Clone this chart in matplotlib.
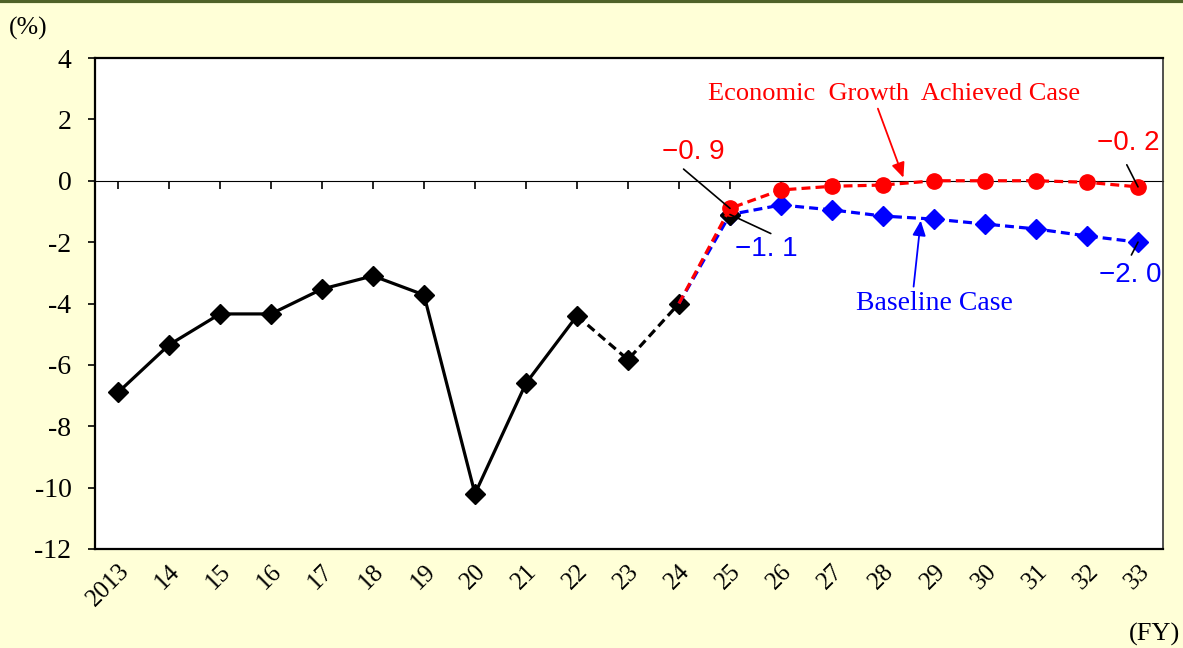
import matplotlib
matplotlib.use("Agg")
import matplotlib.pyplot as plt
from matplotlib.lines import Line2D

# Fiscal years and tick labels
years = ["2013", "14", "15", "16", "17", "18", "19", "20", "21", "22", "23",
         "24", "25", "26", "27", "28", "29", "30", "31", "32", "33"]

# Actual values FY2013-FY2024 (%)
actual = [-6.9, -5.35, -4.34, -4.34, -3.53, -3.1, -3.72, -10.2, -6.6, -4.4, -5.83, -4.0]

# Projections FY2024-FY2033 (%)
growth_case = [-4.0, -0.9, -0.3, -0.18, -0.14, 0.0, 0.0, 0.0, -0.05, -0.2]
baseline_case = [-4.0, -1.1, -0.79, -0.95, -1.15, -1.25, -1.41, -1.57, -1.8, -2.0]

BG = "#FFFFD7"
RED = "#FF0000"
BLUE = "#0000FF"
serif = ["Liberation Serif", "DejaVu Serif"]
numfont = ["Liberation Sans Narrow", "Liberation Sans", "DejaVu Sans"]

fig = plt.figure(figsize=(11.83, 6.48), dpi=100, facecolor=BG)
ax = fig.add_axes([95 / 1183, 1 - 549 / 648, (1163 - 95) / 1183, (549 - 58) / 648])
ax.set_facecolor("white")

x_all = list(range(len(years)))
x_solid = x_all[:10]
x_dash = x_all[9:12]
x_proj = x_all[11:]

lw = 2.3
dash = (0, (2.8, 1.6))
# historical series
ax.plot(x_solid, actual[:10], color="black", lw=lw, zorder=3)
ax.plot(x_dash, actual[9:12], color="black", lw=lw, ls=dash, zorder=3)
ax.plot(x_all[:12], actual, ls="none", marker="D", ms=10, color="black", zorder=4)

# projections
ax.plot(x_proj, baseline_case, color=BLUE, lw=lw, ls=dash,
        marker="D", ms=10, markevery=list(range(1, len(x_proj))), zorder=5)
ax.plot([x_proj[1]], [baseline_case[1]], ls="none", marker="D", ms=10,
        color="black", zorder=6)
ax.plot(x_proj, growth_case, color=RED, lw=lw, ls=dash,
        marker="o", ms=11, markevery=list(range(1, len(x_proj))), zorder=7)

ax.set_xlim(-0.45, len(years) - 1 + 0.49)
ax.set_ylim(-12, 4)
ax.set_yticks(range(-12, 5, 2))
ax.set_yticklabels([str(v) for v in range(-12, 5, 2)], fontfamily=serif, fontsize=20)
ax.tick_params(axis="y", direction="out", length=5, width=1.2, pad=12)

ax.set_xticks(x_all)
ax.set_xticklabels(years, rotation=45, ha="right", va="top",
                   rotation_mode="anchor", fontfamily=serif, fontsize=18)
ax.tick_params(axis="x", length=0, pad=8)

for side in ["left", "bottom", "top"]:
    ax.spines[side].set_linewidth(1.6)
    ax.spines[side].set_color("black")
ax.spines["right"].set_linewidth(1.2)
ax.spines["right"].set_color("#333333")

# zero line with category ticks
zero = ax.secondary_xaxis(12 / 16)
zero.set_xticks(x_all)
zero.set_xticklabels([])
zero.tick_params(direction="in", length=6, width=1.2)
zero.spines["bottom"].set_linewidth(1.4)

# value labels with leader lines
def leader(text, color, xy, xytext, line_start):
    ax.text(xytext[0], xytext[1], text, color=color, fontsize=20,
            fontfamily=numfont, ha="center", va="center", zorder=9)
    ax.annotate("", xy=xy, xytext=line_start,
                arrowprops=dict(arrowstyle="-", color="black", lw=1.2,
                                shrinkA=0, shrinkB=0), zorder=8)

leader("\u22120. 9", RED, (12, growth_case[1]), (11.29, 0.93), (11.09, 0.38))
leader("\u22121. 1", BLUE, (12, baseline_case[1]), (12.72, -2.22), (12.8, -1.72))
leader("\u22120. 2", RED, (20, growth_case[-1]), (19.8, 1.23), (19.78, 0.52))
leader("\u22122. 0", BLUE, (20, baseline_case[-1]), (19.84, -3.07), (19.87, -2.42))

# series callouts
ax.text(15.21, 2.82, "Economic  Growth  Achieved Case", color=RED, fontsize=19,
        fontfamily=serif, ha="center", va="center")
ax.annotate("", xy=(15.4, 0.1), xytext=(14.9, 2.35),
            arrowprops=dict(arrowstyle="-|>,head_length=0.9,head_width=0.4",
                            color=RED, lw=1.3, shrinkA=0, shrinkB=0), zorder=9)
ax.text(16.0, -3.99, "Baseline Case", color=BLUE, fontsize=20,
        fontfamily=serif, ha="center", va="center")
ax.annotate("", xy=(15.74, -1.3), xytext=(15.6, -3.45),
            arrowprops=dict(arrowstyle="-|>,head_length=0.9,head_width=0.4",
                            color=BLUE, lw=1.3, shrinkA=0, shrinkB=0), zorder=9)

# unit labels
fig.text(9 / 1183, 1 - 28 / 648, "(%)", fontfamily=serif, fontsize=18.5,
         ha="left", va="center")
fig.text(1180 / 1183, 1 - 634 / 648, "(FY)", fontfamily=serif, fontsize=19,
         ha="right", va="center")

# top frame line
fig.add_artist(Line2D([0, 1], [0.998, 0.998], transform=fig.transFigure,
                      color="#4F6228", lw=3))

fig.savefig("out.png", dpi=100, facecolor=BG)
